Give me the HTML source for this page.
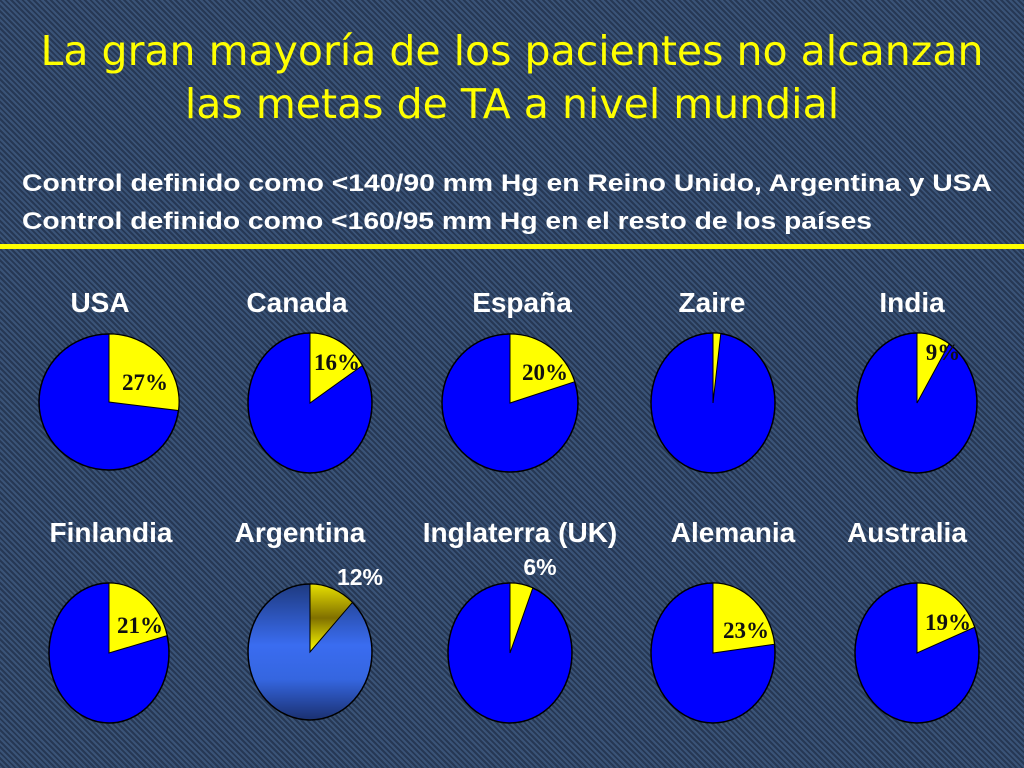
<!DOCTYPE html>
<html><head><meta charset="utf-8"><style>
body{margin:0;width:1024px;height:768px;overflow:hidden;font-family:"Liberation Sans",sans-serif;}
#bg{position:absolute;left:0;top:0;width:1024px;height:768px;background-color:#2f4566;background-image:repeating-linear-gradient(45deg,rgba(80,110,150,.35) 0 2px,rgba(20,30,50,.35) 2px 4px);}
</style></head><body>
<div id="bg"></div>
<svg width="1024" height="768" style="position:absolute;left:0;top:0">
<defs>
<linearGradient id="ga" x1="0" y1="0" x2="0" y2="1"><stop offset="0" stop-color="#1e3a80"/><stop offset=".45" stop-color="#3a6cf0"/><stop offset=".7" stop-color="#3566e0"/><stop offset="1" stop-color="#1a3070"/></linearGradient>
<linearGradient id="gy" x1="0" y1="0" x2="0" y2="1"><stop offset="0" stop-color="#e8e000"/><stop offset=".5" stop-color="#807000"/><stop offset="1" stop-color="#ffff00"/></linearGradient>
</defs>
<text x="512" y="65" text-anchor="middle" fill="#ffff00" font-size="41" font-family="DejaVu Sans, sans-serif">La gran mayoría de los pacientes no alcanzan</text>
<text x="512" y="118" text-anchor="middle" fill="#ffff00" font-size="41" font-family="DejaVu Sans, sans-serif">las metas de TA a nivel mundial</text>
<text x="22" y="191" fill="#fff" font-size="24" font-weight="bold" textLength="970" lengthAdjust="spacingAndGlyphs">Control definido como &lt;140/90 mm Hg en Reino Unido, Argentina y USA</text>
<text x="22" y="229" fill="#fff" font-size="24" font-weight="bold" textLength="850" lengthAdjust="spacingAndGlyphs">Control definido como &lt;160/95 mm Hg en el resto de los países</text>
<rect x="0" y="244" width="1024" height="5" fill="#ffff00"/>
<g id="pies"></g>
</svg>
<script>
const countries=["USA","Canada","España","Zaire","India","Finlandia","Argentina","Inglaterra (UK)","Alemania","Australia"];
const values=[27,16,20,2,9,21,12,6,23,19];
const labels=["27%","16%","20%","","9%","21%","12%","6%","23%","19%"];
const geo=[[109,402,70,68],[310,403,62,70],[510,403,68,69],[713,403,62,70],[917,403,60,70],[109,653,60,70],[310,652,62,68],[510,653,62,70],[713,653,62,70],[917,653,62,70]];
const lblPos=[[145,390],[337,370],[545,380],[0,0],[943,360],[140,633],[360,585],[540,575],[746,638],[948,630]];
const namePos=[[100,312],[297,312],[522,312],[712,312],[912,312],[111,542],[300,542],[520,542],[733,542],[907,542]];
const NS="http://www.w3.org/2000/svg";
const g=document.getElementById('pies');
countries.forEach((c,i)=>{
 const [cx,cy,rx,ry]=geo[i];const grad=i===6;
 const t=document.createElementNS(NS,'text');
 
 
 t.setAttribute('x',namePos[i][0]);t.setAttribute('y',namePos[i][1]);t.setAttribute('text-anchor','middle');
 t.setAttribute('fill','#fff');t.setAttribute('font-size','28');t.setAttribute('font-weight','bold');t.textContent=c;g.appendChild(t);
 const e=document.createElementNS(NS,'ellipse');
 
 
 e.setAttribute('cx',cx);e.setAttribute('cy',cy);e.setAttribute('rx',rx);e.setAttribute('ry',ry);
 e.setAttribute('fill',grad?'url(#ga)':'#0000ff');e.setAttribute('stroke','#000');e.setAttribute('stroke-width','1.5');g.appendChild(e);
 const a=values[i]/100*2*Math.PI;
 const x=cx+rx*Math.sin(a),y=cy-ry*Math.cos(a);
 const p=document.createElementNS(NS,'path');
 
 
 p.setAttribute('d',`M${cx},${cy}L${cx},${cy-ry}A${rx},${ry} 0 ${values[i]>50?1:0} 1 ${x},${y}Z`);
 p.setAttribute('fill',grad?'url(#gy)':'#ffff00');p.setAttribute('stroke','#000');p.setAttribute('stroke-width','1');g.appendChild(p);
 if(labels[i]){
  const l=document.createElementNS(NS,'text');
  
  
  l.setAttribute('x',lblPos[i][0]);l.setAttribute('y',lblPos[i][1]);l.setAttribute('text-anchor','middle');
  const sans=(i===6||i===7);
  l.setAttribute('fill',sans?'#fff':'#111');l.setAttribute('font-size','23');l.setAttribute('font-weight','bold');
  l.setAttribute('font-family',sans?'Liberation Sans, sans-serif':'Liberation Serif, serif');
  l.textContent=labels[i];g.appendChild(l);
 }
});
</script>
</body></html>
